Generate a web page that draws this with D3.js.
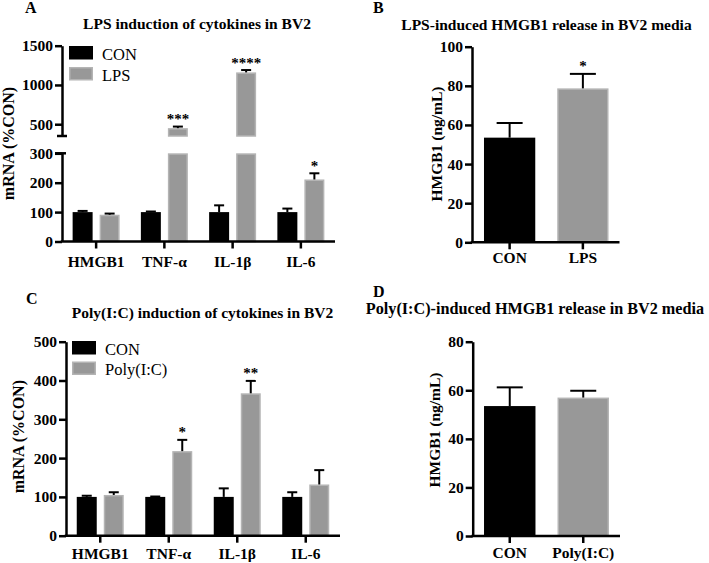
<!DOCTYPE html>
<html><head><meta charset="utf-8">
<script src="https://cdn.jsdelivr.net/npm/d3@7"></script>
<style>
body{margin:0;background:#fff}
svg text{font-family:"Liberation Serif","Times New Roman",Times,serif}
</style></head><body><svg id="c" width="709" height="563"></svg>
<script>
// ---------- data ----------
const cytokines = ["HMGB1", "TNF-α", "IL-1β", "IL-6"];
const seriesA = ["CON", "LPS"];
const aCon = [100, 100, 100, 100];
const aConErr = [4, 2, 23, 12];
const aLps = [91, 450, 1160, 211];
const aLpsErr = [4, 20, 30, 21];
const aStars = ["", "***", "****", "*"];
const aLowTicks = [0, 100, 200, 300];
const aHighTicks = [500, 1000, 1500];

const seriesC = ["CON", "Poly(I:C)"];
const cCon = [100, 100, 100, 100];
const cConErr = [3, 1, 22, 12];
const cPoly = [105, 218, 367, 132];
const cPolyErr = [7, 29, 32, 37];
const cStars = ["", "*", "**", ""];
const cTicks = [0, 100, 200, 300, 400, 500];

const bGroups = ["CON", "LPS"];
const bMean = [53.5, 78.7];
const bErr = [7.5, 7.4];
const bStars = ["", "*"];
const bTicks = [0, 20, 40, 60, 80, 100];

const dGroups = ["CON", "Poly(I:C)"];
const dMean = [53.5, 57];
const dErr = [7.7, 2.8];
const dStars = ["", ""];
const dTicks = [0, 20, 40, 60, 80];

// ---------- styles ----------
const FONT = '"Liberation Serif","Times New Roman",Times,serif';
const BLACK = "#000";
const GRAY = "#989898";
const GRAY_EDGE = "#b4b4b4";
const AX_W = 2.5;

const svg = d3.select("#c");

function styleAxis(g, fs) {
  g.attr("font-family", FONT).attr("font-size", fs).attr("font-weight", "bold");
  g.selectAll("path,line").attr("stroke", "#000").attr("stroke-width", AX_W);
  g.selectAll("text").attr("fill", "#000");
}
function label(txt, x, y, opt = {}) {
  const t = svg.append("text").text(txt)
    .attr("x", x).attr("y", y)
    .attr("font-family", FONT)
    .attr("font-size", opt.size || 15.5)
    .attr("font-weight", opt.weight || "bold")
    .attr("text-anchor", opt.anchor || "middle")
    .attr("fill", "#000");
  if (opt.rotate) t.attr("transform", `rotate(-90,${x},${y})`);
  return t;
}

// generic panel: segments = [{scale, lo, hi}], groups with series
function drawPanel(p) {
  const g = svg.append("g");
  const x0 = d3.scaleBand().domain(p.categories).range(p.xRange)
    .paddingInner(p.padIn || 0).paddingOuter(p.padOut || 0);
  let x1 = null;
  if (p.series.length > 1 && p.grouped) {
    const bw = x0.bandwidth();
    x1 = d3.scaleBand().domain(p.series).range([bw / 2 - p.groupW / 2, bw / 2 + p.groupW / 2]).paddingInner(p.innerPad);
  }
  const segOf = v => p.segments.find(s => v >= s.lo && v <= s.hi) || p.segments[p.segments.length - 1];

  p.series.forEach((s, si) => {
    const vals = p.values[si], errs = p.errors[si];
    p.categories.forEach((c, ci) => {
      const v = vals[ci], e = errs[ci];
      const bx = x1 ? x0(c) + x1(s) : x0(c);
      const bw = x1 ? x1.bandwidth() : x0.bandwidth();
      const gray = si === 1 || (!x1 && ci === 1);
      p.segments.forEach(seg => {
        if (v > seg.lo) {
          const top = Math.min(v, seg.hi);
          const yT = seg.scale(top), yB = seg.scale(seg.lo);
          g.append("rect")
            .attr("x", gray ? bx + 0.75 : bx).attr("y", gray ? yT + 0.75 : yT)
            .attr("width", gray ? bw - 1.5 : bw).attr("height", gray ? yB - yT - 0.75 : yB - yT)
            .attr("fill", gray ? GRAY : BLACK)
            .attr("stroke", gray ? GRAY_EDGE : "none")
            .attr("stroke-width", gray ? 1.5 : 0);
        }
      });
      // error bar (upper only)
      const seg = segOf(v);
      const cx = bx + bw / 2;
      const y1 = seg.scale(v), y2 = seg.scale(v + e);
      g.append("line").attr("x1", cx).attr("x2", cx).attr("y1", y1).attr("y2", y2)
        .attr("stroke", "#000").attr("stroke-width", 2);
      g.append("line").attr("x1", cx - p.capW / 2).attr("x2", cx + p.capW / 2).attr("y1", y2).attr("y2", y2)
        .attr("stroke", "#000").attr("stroke-width", 2);
      const star = p.stars[si] ? p.stars[si][ci] : "";
      if (star) {
        g.append("text").text(star).attr("x", cx).attr("y", y2 - 2.5)
          .attr("text-anchor", "middle").attr("font-family", FONT)
          .attr("font-size", 15).attr("font-weight", "bold").attr("fill", "#000");
      }
    });
  });

  // y axis segments
  p.segments.forEach((seg, k) => {
    const ax = g.append("g").attr("transform", `translate(${p.yAxisX},0)`)
      .call(d3.axisLeft(seg.scale).tickValues(seg.ticks).tickFormat(d3.format("d"))
        .tickSize(7).tickSizeOuter(0).tickPadding(2));
    styleAxis(ax, p.tickFs || 15.5);
    if (p.segments.length > 1) {
      // break marks
      if (k === 0) {
        const y = seg.scale(seg.hi);
        g.append("line").attr("x1", p.yAxisX - 7).attr("x2", p.yAxisX + 4).attr("y1", y).attr("y2", y)
          .attr("stroke", "#000").attr("stroke-width", AX_W);
      } else {
        const y = seg.scale(seg.lo);
        g.append("line").attr("x1", p.yAxisX - 5).attr("x2", p.yAxisX + 5).attr("y1", y).attr("y2", y)
          .attr("stroke", "#000").attr("stroke-width", AX_W);
      }
    }
  });
  // x axis
  const xa = g.append("g").attr("transform", `translate(0,${p.xAxisY})`)
    .call(d3.axisBottom(x0).tickSize(7).tickSizeOuter(0).tickPadding(p.xPad));
  xa.select(".domain").attr("d", `M${p.yAxisX - 1.25},0H${p.xEnd}`);
  styleAxis(xa, p.xFs || 15.5);

  // legend
  if (p.legend) {
    p.series.forEach((s, si) => {
      const ly = p.legend.y + si * p.legend.dy;
      const gray = si === 1;
      g.append("rect")
        .attr("x", gray ? p.legend.x + 0.75 : p.legend.x).attr("y", gray ? ly + 0.75 : ly)
        .attr("width", gray ? 22.5 : 24).attr("height", gray ? 12 : 13.5)
        .attr("fill", gray ? GRAY : BLACK)
        .attr("stroke", gray ? GRAY_EDGE : "none").attr("stroke-width", gray ? 1.5 : 0);
      g.append("text").text(s).attr("x", p.legend.x + 33).attr("y", ly + 13.5)
        .attr("font-family", FONT).attr("font-size", 16.5).attr("fill", "#000");
    });
  }
}

// ---------- Panel A ----------
const aLow = d3.scaleLinear().domain([0, 300]).range([241.5, 153.3]);
const aHigh = d3.scaleLinear().domain([350, 1500]).range([136, 45.7]);
drawPanel({
  categories: cytokines, series: seriesA, grouped: true,
  values: [aCon, aLps], errors: [aConErr, aLpsErr], stars: [null, aStars],
  xRange: [62, 335], xEnd: 335, yAxisX: 62, xAxisY: 241.5, xPad: 7,
  groupW: 47, innerPad: 0.26, capW: 10,
  segments: [
    { scale: aLow, lo: 0, hi: 300, ticks: aLowTicks },
    { scale: aHigh, lo: 350, hi: 1500, ticks: aHighTicks }
  ],
  legend: { x: 69, y: 46, dy: 21 }
});
label("A", 25, 13, { anchor: "start", size: 16 });
label("LPS induction of cytokines in BV2", 197, 29);
label("mRNA (%CON)", 13.5, 143.5, { rotate: true, size: 16 });

// ---------- Panel B ----------
const bY = d3.scaleLinear().domain([0, 100]).range([242.3, 46.7]);
drawPanel({
  categories: bGroups, series: ["v"], grouped: false,
  values: [bMean], errors: [bErr], stars: [bStars],
  xRange: [473, 619.5], xEnd: 619.5, padIn: 0.3, padOut: 0.15,
  yAxisX: 472, xAxisY: 242.3, xPad: 3, capW: 26,
  segments: [{ scale: bY, lo: 0, hi: 100, ticks: bTicks }]
});
label("B", 373, 13, { anchor: "start", size: 16 });
label("LPS-induced HMGB1 release in BV2 media", 546.5, 29.5);
label("HMGB1 (ng/mL)", 442, 144, { rotate: true, size: 15.5 });

// ---------- Panel C ----------
const cY = d3.scaleLinear().domain([0, 500]).range([535.7, 341.7]);
drawPanel({
  categories: cytokines, series: seriesC, grouped: true,
  values: [cCon, cPoly], errors: [cConErr, cPolyErr], stars: [null, cStars],
  xRange: [66, 340], xEnd: 340, yAxisX: 66, xAxisY: 535.7, xPad: 5,
  groupW: 47, innerPad: 0.26, capW: 10,
  segments: [{ scale: cY, lo: 0, hi: 500, ticks: cTicks }],
  legend: { x: 72, y: 341, dy: 20.5 }
});
label("C", 26, 304, { anchor: "start", size: 16 });
label("Poly(I:C) induction of cytokines in BV2", 202.5, 318);
label("mRNA (%CON)", 24, 436.7, { rotate: true, size: 16 });

// ---------- Panel D ----------
const dY = d3.scaleLinear().domain([0, 80]).range([536, 341.7]);
drawPanel({
  categories: dGroups, series: ["v"], grouped: false,
  values: [dMean], errors: [dErr], stars: [dStars],
  xRange: [473, 620], xEnd: 620, padIn: 0.3, padOut: 0.15,
  yAxisX: 472.7, xAxisY: 536, xPad: 4, capW: 26,
  segments: [{ scale: dY, lo: 0, hi: 80, ticks: dTicks }]
});
label("D", 373, 297, { anchor: "start", size: 16 });
label("Poly(I:C)-induced HMGB1 release in BV2 media", 535, 314, { size: 16.2 });
label("HMGB1 (ng/mL)", 440, 430, { rotate: true, size: 15.5 });
</script></body></html>
